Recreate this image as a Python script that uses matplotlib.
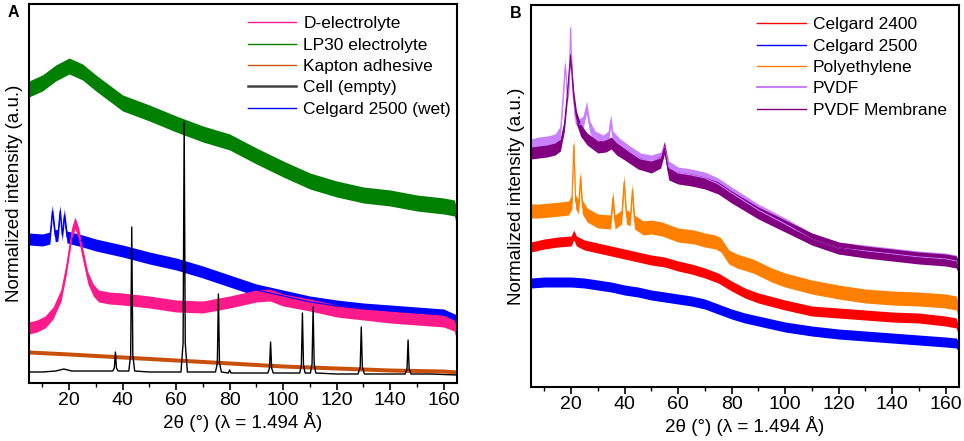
import matplotlib
matplotlib.use("Agg")
import matplotlib.pyplot as plt
from matplotlib.lines import Line2D

plt.rcParams['font.family'] = ['Liberation Sans', 'DejaVu Sans']

# ---- panel A (values in arbitrary intensity units) ----
lp30_x = [5, 10, 15, 20, 25, 30, 40, 50, 60, 70, 80, 90, 100, 110, 120, 130, 140, 150, 160, 164, 165]
lp30_y = [294, 300, 310, 317, 311, 300, 280, 270, 259, 249, 241, 227, 214, 202, 194, 188, 185, 180, 177, 175, 165]

celA_x = [5, 10, 12.8, 13.7, 14.8, 15.8, 16.6, 17.4, 18.2, 19.2, 25, 30, 40, 50, 60, 70, 80, 90,
          100, 110, 120, 130, 140, 150, 160, 165]
celA_y = [144, 143, 145, 172, 147, 148, 172, 148, 168, 146, 142, 138, 132, 125, 119, 111, 102, 93,
          87, 81, 77, 74, 72, 70, 68, 62]

delec_x = [5, 8, 11, 14, 17, 19, 21, 22.2, 23.5, 25, 27, 29, 31, 35, 40, 50, 60, 70, 80, 90, 95,
           100, 110, 120, 130, 140, 150, 160, 164, 165]
delec_y = [55, 57, 61, 70, 88, 115, 150, 160, 150, 130, 105, 93, 87, 85, 84, 81, 77, 76, 81, 87, 88,
           83, 78, 72, 69, 66, 64, 62, 58, 46]

kapton_x = [5, 20, 40, 60, 80, 100, 120, 140, 160, 165]
kapton_y = [31, 29, 26, 23, 20, 17, 15, 13, 12, 11]

cell_x = [5, 10, 15, 18, 21, 25, 30,
          36.3, 36.9, 37.3, 37.7, 38.3,
          42.3, 43.0, 43.4, 43.8, 44.5, 50, 55,
          61.8, 62.6, 63.0, 63.4, 64.2, 70,
          74.7, 75.4, 75.8, 76.2, 76.9, 79.5, 80, 80.5, 90,
          94.3, 94.9, 95.3, 95.7, 96.3, 102,
          106.2, 106.8, 107.2, 107.6, 108.2,
          110.2, 110.8, 111.2, 111.6, 112.2, 120,
          128.0, 128.8, 129.2, 129.6, 130.4, 138,
          145.6, 146.3, 146.7, 147.1, 147.8, 155, 165]
cell_y = [11, 11, 12, 14, 12, 12, 12,
          12, 15, 31, 15, 12,
          12, 28, 156, 28, 12, 11, 11,
          11, 40, 261, 40, 11, 11,
          11, 20, 89, 20, 11, 10, 13, 10, 10,
          10, 15, 41, 15, 10, 10,
          10, 18, 70, 18, 10,
          10, 19, 76, 19, 10, 9,
          9, 16, 56, 16, 9, 9,
          9, 14, 43, 14, 9, 9, 8]

# ---- panel B ----
pvdf_x = [5, 8, 11, 14, 16, 17.0, 17.8, 18.6, 19.2, 19.8, 20.5, 21.5, 23, 24.5, 25.8, 27, 29, 32,
          34.0, 34.8, 35.6, 38, 42, 46, 50, 53.5, 54.9, 56.5, 60, 65, 70, 75, 80, 90, 100, 110,
          120, 130, 140, 150, 160, 164, 165]
pvdf_y = [242, 244, 245, 247, 255, 290, 322, 290, 300, 359, 300, 270, 262, 265, 280, 260, 250, 246,
          250, 267, 250, 243, 235, 228, 226, 229, 240, 220, 214, 212, 209, 203, 194, 177, 163, 148,
          139, 136, 133, 130, 128, 126, 120]

memb_x = [5, 8, 11, 14, 16, 17.5, 18.5, 19.8, 21, 22, 23.5, 26, 30, 33, 35, 37, 40, 45, 50, 53.5,
          54.9, 56.5, 60, 65, 70, 75, 80, 90, 100, 110, 120, 130, 140, 150, 160, 164, 165]
memb_y = [234, 235, 236, 238, 242, 262, 290, 332, 290, 270, 257, 248, 240, 241, 244, 238, 233, 224,
          220, 225, 239, 213, 209, 207, 204, 199, 190, 174, 161, 148, 139, 135, 132, 129, 127, 125, 118]

pe_x = [5, 8, 12, 16, 19, 20.3, 21.0, 21.7, 22.8, 23.5, 24.2, 26, 30, 34.8, 35.6, 36.4, 38.9, 39.8,
        40.7, 42.1, 42.9, 43.7, 47, 50, 54, 60, 66, 70, 74, 76, 79, 82, 88, 95, 100, 110, 120, 130,
        140, 150, 160, 164, 165]
pe_y = [176, 176, 177, 178, 179, 185, 242, 185, 180, 210, 180, 172, 166, 165, 189, 165, 170, 205,
        170, 168, 197, 165, 159, 160, 158, 152, 150, 147, 145, 142, 130, 126, 121, 112, 107, 100, 95,
        91, 89, 88, 86, 84, 75]

c2400_x = [5, 10, 15, 20, 21, 22, 25, 30, 35, 40, 45, 50, 55, 60, 65, 70, 75, 80, 85, 90, 100, 110,
           120, 130, 140, 150, 160, 164, 165]
c2400_y = [140, 143, 145, 146, 152, 146, 142, 139, 136, 133, 130, 127, 125, 121, 118, 114, 109, 101,
           94, 89, 82, 76, 74, 72, 70, 69, 66, 64, 55]

c2500_x = [5, 10, 15, 20, 25, 30, 35, 40, 45, 50, 55, 60, 65, 70, 75, 80, 85, 90, 100, 110, 120, 130,
           140, 150, 160, 164, 165]
c2500_y = [104, 105, 105, 105, 104, 102, 100, 97, 95, 92, 90, 88, 86, 83, 78, 73, 69, 66, 60, 56, 53,
           51, 49, 47, 45, 44, 40]

ticks_x = [20, 40, 60, 80, 100, 120, 140, 160]
xlabel = "2\u03b8 (\u00b0) (\u03bb = 1.494 \u00c5)"
ylabel = "Normalized intensity (a.u.)"


def noisy(ax, x, y, color, hw, lw=0.8):
    # noise band drawn as an envelope around the read centre line
    lo = [v - hw for v in y]
    hi = [v + hw for v in y]
    ax.fill_between(x, lo, hi, color=color, lw=0)
    ax.plot(x, y, color=color, lw=lw)


def style(ax, letter, top):
    ax.set_xlim(5, 165)
    ax.set_ylim(0, top)
    ax.set_xticks(ticks_x)
    ax.set_xticks(range(10, 165, 20), minor=True)
    ax.set_yticks([])
    ax.tick_params(axis='x', which='major', direction='out', length=5, width=1.2, labelsize=14, pad=1.5)
    ax.tick_params(axis='x', which='minor', direction='out', length=3, width=1.0)
    for s in ax.spines.values():
        s.set_linewidth(1.5)
    ax.set_xlabel(xlabel, fontsize=13.5, labelpad=2)
    ax.set_ylabel(ylabel, fontsize=13.5, labelpad=4)
    ax.text(-0.05, 0.997, letter, transform=ax.transAxes, fontsize=11.5, fontweight='bold',
            va='top', ha='left')


fig = plt.figure(figsize=(9.64, 4.41), dpi=100)
axA = fig.add_axes([0.0301, 0.1315, 0.4440, 0.8595])
axB = fig.add_axes([0.5508, 0.1224, 0.4440, 0.8663])

noisy(axA, lp30_x, lp30_y, '#008000', 8)
noisy(axA, kapton_x, kapton_y, '#C8500A', 2)
noisy(axA, celA_x, celA_y, '#0000FF', 6)
noisy(axA, delec_x, delec_y, '#FF1A8C', 6)
axA.plot(cell_x, cell_y, color='black', lw=1.0)
style(axA, 'A', 379)

handlesA = [Line2D([], [], color='#FF1A8C', lw=1.0),
            Line2D([], [], color='#008000', lw=1.0),
            Line2D([], [], color='#C8500A', lw=1.0),
            Line2D([], [], color='#404040', lw=1.8),
            Line2D([], [], color='#0000FF', lw=1.0)]
axA.legend(handlesA, ['D-electrolyte', 'LP30 electrolyte', 'Kapton adhesive', 'Cell (empty)',
                      'Celgard 2500 (wet)'],
           loc='upper right', bbox_to_anchor=(1.014, 1.0), frameon=False, fontsize=12.5,
           handlelength=2.8, handletextpad=0.4, labelspacing=0.36, borderaxespad=0.3)

noisy(axB, c2500_x, c2500_y, '#0000FF', 5)
noisy(axB, c2400_x, c2400_y, '#FF0000', 5)
noisy(axB, pe_x, pe_y, '#FF8000', 7)
noisy(axB, pvdf_x, pvdf_y, '#C880FF', 6)
noisy(axB, memb_x, memb_y, '#800080', 6)
style(axB, 'B', 382)

handlesB = [Line2D([], [], color='#FF0000', lw=1.0),
            Line2D([], [], color='#0000FF', lw=1.0),
            Line2D([], [], color='#FF8000', lw=1.0),
            Line2D([], [], color='#C880FF', lw=1.5),
            Line2D([], [], color='#800080', lw=1.0)]
axB.legend(handlesB, ['Celgard 2400', 'Celgard 2500', 'Polyethylene', 'PVDF', 'PVDF Membrane'],
           loc='upper right', bbox_to_anchor=(1.0, 1.0), frameon=False, fontsize=12.5,
           handlelength=2.8, handletextpad=0.4, labelspacing=0.36, borderaxespad=0.3)

fig.savefig('out.png', dpi=100)
